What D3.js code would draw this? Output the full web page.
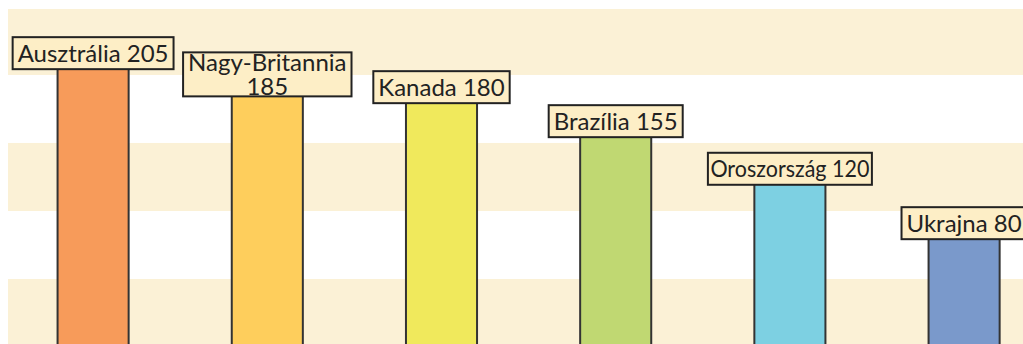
<!DOCTYPE html>
<html>
<head>
<meta charset="utf-8">
<script src="https://cdn.jsdelivr.net/npm/d3@7"></script>
<style>
  html, body { margin: 0; padding: 0; background: #ffffff; }
  svg { display: block; font-family: Lato, "Open Sans", sans-serif; }
</style>
</head>
<body>
<svg id="chart" width="1023" height="344"></svg>
<script>
// Country values
const countries = ["Ausztrália", "Nagy-Britannia", "Kanada", "Brazília", "Oroszország", "Ukrajna"];
const values = [205, 185, 180, 155, 120, 80];
const barColors = ["#f79b5a", "#fece5c", "#f0e95c", "#c0d872", "#7dd0e2", "#7a99cb"];
// Background band boundaries (value units)
const bandTicks = [0, 50, 100, 150, 200, 250];

const data = countries.map((c, i) => ({ country: c, value: values[i], color: barColors[i] }));

const plot = { left: 8, right: 1052, top: 9, bottom: 347 };

const svg = d3.select("#chart");

const x = d3.scaleBand()
  .domain(countries)
  .range([6, 1051.2])
  .paddingInner(0.592)
  .paddingOuter(0.296);

const y = d3.scaleLinear()
  .domain([0, 248.5])
  .range([plot.bottom, plot.top]);

// Alternating horizontal bands
const bands = [];
for (let i = 0; i + 1 < bandTicks.length; i++) {
  if (i % 2 === 0) {
    bands.push([bandTicks[i], Math.min(bandTicks[i + 1], y.domain()[1])]);
  }
}
svg.append("g")
  .selectAll("rect")
  .data(bands)
  .join("rect")
  .attr("x", plot.left)
  .attr("width", plot.right - plot.left)
  .attr("y", d => y(d[1]))
  .attr("height", d => y(d[0]) - y(d[1]))
  .attr("fill", "#fbf1d6");

// Bars
svg.append("g")
  .selectAll("rect")
  .data(data)
  .join("rect")
  .attr("x", d => x(d.country))
  .attr("width", x.bandwidth())
  .attr("y", d => y(d.value))
  .attr("height", d => y(0) - y(d.value))
  .attr("fill", d => d.color)
  .attr("stroke", "#333333")
  .attr("stroke-width", 2);

// Value labels in boxes above each bar
const fontSize = 24;
const lineGap = 24;
const wrapWidth = 182;   // longer labels break onto two lines
const maxBox = 164;      // widest label box; wider text is squeezed to fit
const pad = 5;

const measure = svg.append("text")
  .attr("font-size", fontSize)
  .attr("visibility", "hidden");
function textWidth(s) {
  measure.text(s);
  return measure.node().getComputedTextLength();
}

const labels = svg.append("g");
data.forEach(d => {
  const full = `${d.country} ${d.value}`;
  let lines = [full];
  if (textWidth(full) > wrapWidth) {
    const cut = full.lastIndexOf(" ");
    lines = [full.slice(0, cut), full.slice(cut + 1)];
  }
  const natural = d3.max(lines, textWidth);
  const squeeze = lines.length === 1 && natural + 2 * pad > maxBox;
  const w = squeeze ? maxBox : natural + 2 * pad;
  const h = 32 + (lines.length - 1) * 12;
  const cx = x(d.country) + x.bandwidth() / 2;
  const bottom = y(d.value) + 1;
  const top = bottom - h;
  const g = labels.append("g");
  g.append("rect")
    .attr("x", cx - w / 2)
    .attr("y", top)
    .attr("width", w)
    .attr("height", h)
    .attr("fill", "#fdeec6")
    .attr("stroke", "#222222")
    .attr("stroke-width", 2);
  const capH = fontSize * 0.7165;
  const blockH = capH + (lines.length - 1) * lineGap;
  const firstBaseline = top + h / 2 - blockH / 2 + capH;
  const t = g.append("text")
    .attr("font-size", fontSize)
    .attr("fill", "#222222")
    .attr("text-anchor", "middle");
  t.selectAll("tspan")
    .data(lines)
    .join("tspan")
    .attr("x", cx)
    .attr("y", (l, i) => firstBaseline + i * lineGap)
    .text(l => l);
  if (squeeze) {
    t.selectAll("tspan")
      .attr("textLength", maxBox - 5)
      .attr("lengthAdjust", "spacingAndGlyphs");
  }
});
measure.remove();
</script>
</body>
</html>
